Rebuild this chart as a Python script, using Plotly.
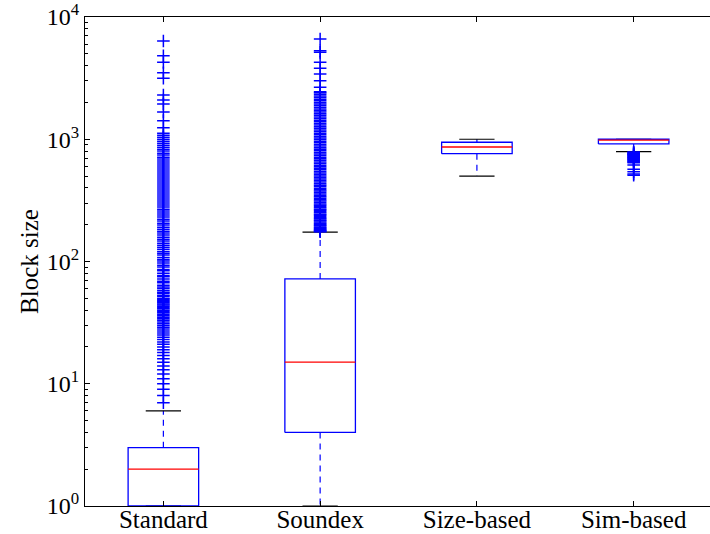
import plotly.graph_objects as go

# Box statistics per blocking method (block sizes)
categories = ["Standard", "Soundex", "Size-based", "Sim-based"]
q1 = [1, 4, 762, 915]
median = [2, 15, 864, 985]
q3 = [3, 72, 945, 1000]
whisker_low = [1, 1, 500, 791]
whisker_high = [6, 174, 1000, 1000]

# Points beyond the whiskers
outliers_standard = [
    7, 8, 9, 10, 11, 12, 13, 14, 15, 16, 17, 18, 19, 20, 21, 22, 23, 24, 25,
    26, 27, 28, 29, 30, 31, 32, 33, 34, 35, 36, 37, 38, 39, 40, 41, 42, 43, 44,
    45, 46, 47, 48, 49, 50, 52, 53, 55, 56, 58, 60, 62, 64, 67, 69, 72, 75,
    77, 80, 84, 86, 90, 93, 97, 101, 104, 108, 113, 117, 121, 126, 131, 136,
    141, 147, 152, 158, 165, 171, 177, 184, 191, 199, 206, 214, 222, 231, 240,
    249, 259, 268, 279, 290, 301, 312, 324, 337, 350, 363, 377, 392, 407, 422,
    438, 455, 473, 491, 510, 529, 549, 570, 592, 615, 638, 663, 688, 714, 742,
    770, 800, 830, 862, 895, 929, 965, 1002, 1040, 1080, 1119, 1243, 1419,
    1671, 1941, 2095, 2302, 3152, 3501, 4257, 4824, 6365,
]
outliers_soundex = [
    175, 176, 178, 180, 182, 185, 188, 191, 195, 198, 202, 206, 210, 215, 219,
    224, 228, 233, 239, 244, 250, 256, 262, 268, 275, 282, 289, 296, 304, 312,
    320, 329, 338, 347, 357, 366, 377, 387, 398, 410, 421, 433, 446, 459, 472,
    486, 500, 515, 530, 546, 562, 579, 596, 614, 633, 652, 672, 692, 713, 735,
    757, 780, 804, 829, 854, 880, 907, 935, 964, 993, 1024, 1055, 1088, 1121,
    1156, 1192, 1229, 1267, 1306, 1346, 1388, 1431, 1475, 1521, 1568, 1617,
    1667, 1719, 1772, 1827, 1884, 1942, 2002, 2064, 2128, 2194, 2262, 2332,
    2404, 2450, 2661, 3014, 3420, 3802, 4257, 5140, 5300, 6607,
]
outliers_size = []
outliers_sim = [
    785, 778, 770, 762, 755, 748, 740, 731, 722, 713, 705, 697, 688, 680, 671,
    662, 653, 643, 615, 568, 543, 520, 508,
]
outliers = [outliers_standard, outliers_soundex, outliers_size, outliers_sim]

y_tickvals = [1, 10, 100, 1000, 10000]
y_ticktext = ["10<sup>0</sup>", "10<sup>1</sup>", "10<sup>2</sup>",
              "10<sup>3</sup>", "10<sup>4</sup>"]

BLUE = "#0000ff"
RED = "#ff0000"
FONT = "Liberation Serif"
half_box = 0.225
half_cap = 0.1125

fig = go.Figure()

for i, name in enumerate(categories):
    pos = i + 1
    # whiskers (dashed)
    fig.add_trace(go.Scatter(
        x=[pos, pos, None, pos, pos],
        y=[q3[i], whisker_high[i], None, q1[i], whisker_low[i]],
        mode="lines", line=dict(color=BLUE, width=1.2, dash="6px,5px"),
        hoverinfo="skip", showlegend=False))
    # caps
    fig.add_trace(go.Scatter(
        x=[pos - half_cap, pos + half_cap, None, pos - half_cap, pos + half_cap],
        y=[whisker_high[i], whisker_high[i], None, whisker_low[i], whisker_low[i]],
        mode="lines", line=dict(color="black", width=1.2),
        hoverinfo="skip", showlegend=False))
    # box
    fig.add_trace(go.Scatter(
        x=[pos - half_box, pos + half_box, pos + half_box, pos - half_box, pos - half_box],
        y=[q1[i], q1[i], q3[i], q3[i], q1[i]],
        mode="lines", line=dict(color=BLUE, width=1.3),
        hoverinfo="skip", showlegend=False))
    # median
    fig.add_trace(go.Scatter(
        x=[pos - half_box, pos + half_box], y=[median[i], median[i]],
        mode="lines", line=dict(color=RED, width=1.3),
        hoverinfo="skip", showlegend=False))
    # fliers
    if outliers[i]:
        fig.add_trace(go.Scatter(
            x=[pos] * len(outliers[i]), y=outliers[i], mode="markers",
            marker=dict(symbol="cross-thin", size=9,
                        line=dict(color=BLUE, width=1.5)),
            hoverinfo="skip", showlegend=False, cliponaxis=True))

minor_vals = [m * 10 ** d for d in range(4) for m in range(2, 10)]

fig.update_layout(
    width=710, height=534,
    margin=dict(l=85, r=0, t=17, b=28, autoexpand=False),
    plot_bgcolor="white", paper_bgcolor="white",
    font=dict(family=FONT, size=24, color="black"),
    xaxis=dict(
        range=[0.5, 4.487], tickmode="array", tickvals=[1, 2, 3, 4],
        ticktext=categories, ticks="inside", ticklen=5, tickcolor="black",
        showline=True, linecolor="black", linewidth=1.2, mirror="ticks",
        showgrid=False, zeroline=False, automargin=False,
        ticklabeloverflow="allow", ticklabelstandoff=-9,
        tickfont=dict(family=FONT, size=25),
    ),
    yaxis=dict(
        type="log", range=[0, 4], tickmode="array", tickvals=y_tickvals,
        ticktext=y_ticktext, ticks="inside", ticklen=5, tickcolor="black",
        showline=True, linecolor="black", linewidth=1.2, mirror=False,
        showgrid=False, zeroline=False, automargin=False,
        ticklabeloverflow="allow",
        minor=dict(tickmode="array", tickvals=minor_vals, ticks="inside",
                   ticklen=3, tickcolor="black", showgrid=False),
        tickfont=dict(family=FONT, size=24),
        title=dict(text="Block size", font=dict(family=FONT, size=25), standoff=0),
    ),
    yaxis2=dict(
        type="log", range=[0, 4], overlaying="y", side="right",
        tickmode="array", tickvals=[10, 100, 1000], ticks="inside", ticklen=4,
        tickcolor="black", showticklabels=False, showline=False,
        showgrid=False, zeroline=False, automargin=False,
    ),
)

fig.write_html("out.html")
